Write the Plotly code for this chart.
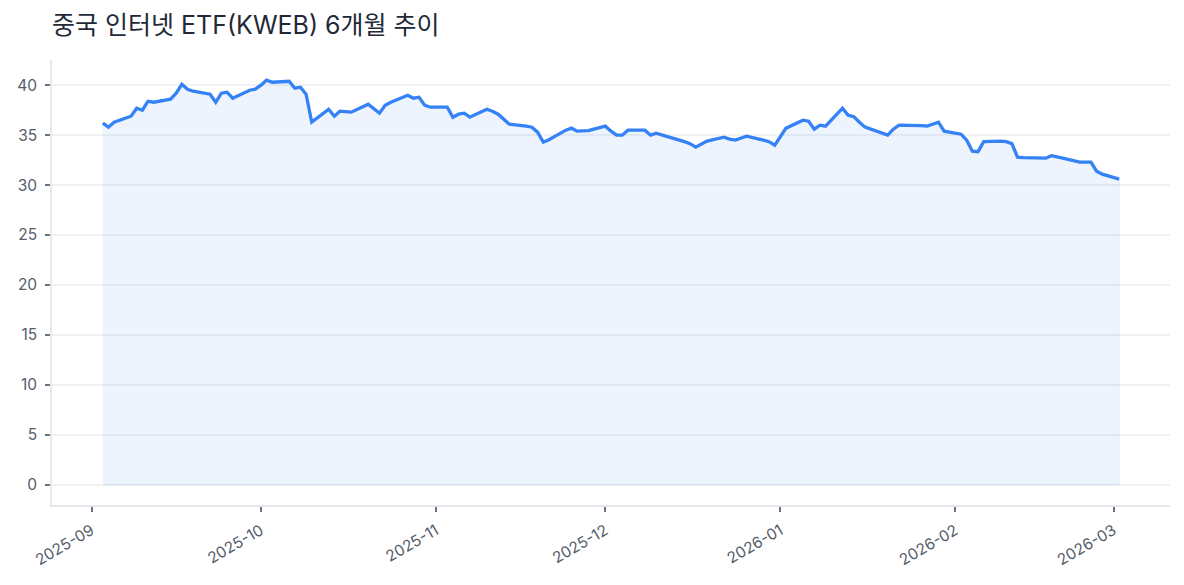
import pandas as pd
import plotly.graph_objects as go

# %%

TITLE = "중국 인터넷 ETF(KWEB) 6개월 추이"

START = "2025-09-03"
END = "2026-03-02"
HOLIDAYS = ["2025-11-27", "2025-12-25", "2026-01-01", "2026-01-19", "2026-02-16"]

# closing prices (one per trading day)
PRICE_SEP = [36.2, 35.8, 36.3, 36.9, 37.7, 37.5, 38.4, 38.3, 38.6, 39.2,
             40.1, 39.6, 39.4, 39.1, 38.3, 39.2, 39.3, 38.7, 39.5, 39.6]
PRICE_OCT = [40.0, 40.5, 40.3, 40.4, 39.7, 39.8, 39.1, 36.3, 37.6, 36.9,
             37.4, 37.35, 37.3, 38.1, 37.7, 37.2, 38.0, 38.3, 39.0, 38.7,
             38.8, 38.0, 37.8]
PRICE_NOV = [37.8, 36.8, 37.1, 37.2, 36.8, 37.6, 37.4, 37.1, 36.6, 36.1,
             35.9, 35.8, 35.3, 34.3, 34.55, 35.5, 35.7, 35.4, 35.45]
PRICE_DEC = [35.9, 35.4, 35.0, 35.0, 35.5, 35.5, 35.0, 35.2, 35.0, 34.85,
             34.35, 34.15, 33.8, 34.1, 34.4, 34.8, 34.6, 34.5, 34.9, 34.5,
             34.35, 34.0]
PRICE_JAN = [35.7, 36.5, 36.4, 35.6, 36.0, 35.9, 37.7, 37.0, 36.85, 36.3,
             35.8, 35.0, 35.6, 36.0, 36.0, 35.95, 35.9, 36.1, 36.3, 35.4]
PRICE_FEB = [35.1, 34.5, 33.4, 33.35, 34.35, 34.4, 34.35, 34.15, 32.8, 32.75,
             32.7, 32.95, 32.8, 32.7, 32.3, 32.3, 32.3, 31.4, 31.1]
PRICE_MAR = [30.6]

LINE_COLOR = "#3482f6"
FILL_COLOR = "rgba(59, 130, 246, 0.09)"
FONT_FAMILY = "Inter, Noto Sans CJK KR"
TICK_FONT = dict(size=15.5, color="#555d6b", family=FONT_FAMILY)

# %%

dates = pd.bdate_range(START, END)
dates = dates[~dates.isin(pd.to_datetime(HOLIDAYS))]
prices = PRICE_SEP + PRICE_OCT + PRICE_NOV + PRICE_DEC + PRICE_JAN + PRICE_FEB + PRICE_MAR

df = pd.DataFrame({"date": dates, "close": prices})

# %%

fig = go.Figure()

# filled area down to zero (closed polygon, like fill_between)
poly_x = list(df["date"]) + list(df["date"][::-1])
poly_y = list(df["close"]) + [0] * len(df)
fig.add_trace(
    go.Scatter(
        x=poly_x,
        y=poly_y,
        mode="lines",
        fill="toself",
        fillcolor=FILL_COLOR,
        line=dict(color="rgba(59, 130, 246, 0.10)", width=1),
        hoverinfo="skip",
        showlegend=False,
    )
)

fig.add_trace(
    go.Scatter(
        x=df["date"],
        y=df["close"],
        mode="lines",
        line=dict(color=LINE_COLOR, width=3.3),
        name="KWEB",
        showlegend=False,
    )
)

# %%

# matplotlib-like 5% margins
span = df["date"].max() - df["date"].min()
x_min = df["date"].min() - span * 0.05
x_max = df["date"].max() + span * 0.05
y_span = df["close"].max()
y_min = -y_span * 0.05
y_max = df["close"].max() + y_span * 0.05

fig.update_xaxes(
    range=[x_min, x_max],
    tickformat="%Y-%m",
    dtick="M1",
    tick0="2025-09-01",
    tickangle=-30,
    showgrid=False,
    showline=True,
    linecolor="#e5e7eb",
    linewidth=1.5,
    ticks="outside",
    ticklen=5,
    tickwidth=1.5,
    tickcolor="#6b7280",
    tickfont=TICK_FONT,
    ticklabelstandoff=4,
    zeroline=False,
    automargin=False,
)
fig.update_yaxes(
    range=[y_min, y_max],
    dtick=5,
    tick0=0,
    showgrid=True,
    gridcolor="#f1f2f4",
    gridwidth=1.5,
    showline=True,
    linecolor="#e5e7eb",
    linewidth=1.5,
    ticks="outside",
    ticklen=5,
    tickwidth=1.5,
    tickcolor="#6b7280",
    tickfont=TICK_FONT,
    ticklabelstandoff=5,
    zeroline=False,
    automargin=False,
)

# page body has an 8px margin, so the figure is offset by 8px
fig.update_layout(
    title=dict(
        text=TITLE,
        x=0,
        xref="paper",
        xanchor="left",
        y=1 - 17 / 585,
        yref="container",
        yanchor="middle",
        font=dict(size=25, color="#1f2937", family=FONT_FAMILY),
    ),
    font=dict(family=FONT_FAMILY, color="#374151", size=13),
    plot_bgcolor="white",
    paper_bgcolor="white",
    width=1184,
    height=585,
    margin=dict(l=44, r=22, t=52, b=88),
    showlegend=False,
)

fig.write_html("out.html")
